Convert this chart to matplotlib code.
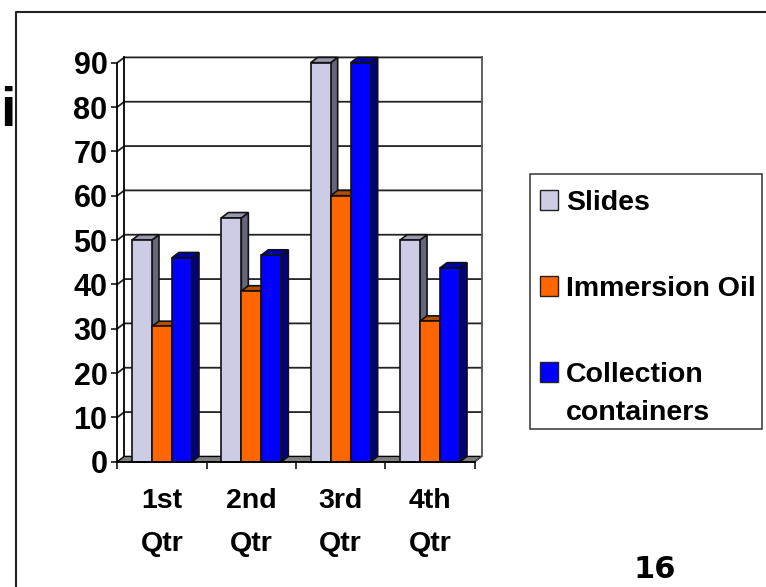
#Quarterly 3D-style column chart on a slide
import matplotlib
matplotlib.use('Agg')
import matplotlib.pyplot as plt
from matplotlib.patches import Polygon, Rectangle

plt.rcParams['font.family'] = ['Liberation Sans', 'DejaVu Sans']

quarters = ['1st\nQtr', '2nd\nQtr', '3rd\nQtr', '4th\nQtr']
series_names = ['Slides', 'Immersion Oil', 'Collection\ncontainers']
slides = [50, 55, 90, 50]
immersion_oil = [30.5, 38.5, 60, 31.7]
collection = [46, 46.6, 90, 43.7]
all_series = [slides, immersion_oil, collection]
y_ticks = [0, 10, 20, 30, 40, 50, 60, 70, 80, 90]

front_colors = ['#CCCCE6', '#FF6600', '#0000FF']
side_colors = ['#66667A', '#803300', '#000080']
top_colors = ['#9999AD', '#B34D00', '#0000B3']

W, H = 766, 587
fig = plt.figure(figsize=(W / 100, H / 100), dpi=100)

# axes box is the front edge of the chart, in pixels
left, right, top, bottom = 117.3, 474.7, 62.7, 461.7
ax = fig.add_axes([left / W, 1 - bottom / H, (right - left) / W, (bottom - top) / H])
ax.set_xlim(0, 4)
ax.set_ylim(0, 90)
ax.patch.set_visible(False)

# depth of the 3D effect, in data units
dx = 7 / ((right - left) / 4)
dy = 5.3 / ((bottom - top) / 90)

# walls, floor and gridlines
ax.add_patch(Polygon([(0, 0), (4, 0), (4 + dx, dy), (dx, dy)], fc='#808080', ec='black',
                     lw=1, clip_on=False, zorder=1))
for t in y_ticks[1:]:
    ax.plot([0, dx, 4 + dx], [t, t + dy, t + dy], color='#222222', lw=1.3, clip_on=False, zorder=1)
ax.plot([dx, dx], [dy, 90 + dy], color='black', lw=1.3, clip_on=False, zorder=1)
ax.plot([4 + dx, 4 + dx], [dy, 90 + dy], color='#555555', lw=1.3, clip_on=False, zorder=1)
ax.plot([4, 4 + dx], [0, dy], color='#555555', lw=1, clip_on=False, zorder=1)

# bars, drawn left to right so each front covers the previous side
bar_w = 20 / ((right - left) / 4)
z = 2
for i in range(len(quarters)):
    for j, vals in enumerate(all_series):
        x0 = i + 0.5 + (j - 1.5) * bar_w
        v = vals[i]
        ax.add_patch(Polygon([(x0 + bar_w, 0), (x0 + bar_w + dx, dy), (x0 + bar_w + dx, v + dy), (x0 + bar_w, v)],
                             fc=side_colors[j], ec='#111111', lw=1.2, clip_on=False, zorder=z))
        ax.add_patch(Polygon([(x0, v), (x0 + dx, v + dy), (x0 + bar_w + dx, v + dy), (x0 + bar_w, v)],
                             fc=top_colors[j], ec='#111111', lw=1.2, clip_on=False, zorder=z))
        ax.bar(x0, v, bar_w, align='edge', color=front_colors[j], edgecolor='#111111', lw=1.2,
               clip_on=False, zorder=z + 0.5)
        z += 1

for s in ['top', 'right']:
    ax.spines[s].set_visible(False)
for s in ['left', 'bottom']:
    ax.spines[s].set_linewidth(1.3)
    ax.spines[s].set_zorder(50)

ax.set_yticks(y_ticks)
ax.tick_params(axis='y', length=4, width=1.1, pad=3, labelsize=22)
for lab in ax.get_yticklabels():
    lab.set_fontweight('bold')
ax.set_xticks(range(5))
ax.set_xticklabels([])
ax.tick_params(axis='x', which='major', length=5, width=1.1)
ax.set_xticks([i + 0.5 for i in range(4)], minor=True)
ax.set_xticklabels(quarters, minor=True, fontsize=20.5, fontweight='bold', linespacing=1.85)
ax.tick_params(axis='x', which='minor', length=0, pad=19)

# overlay in pixel coordinates for the slide frame, legend and stray text
ov = fig.add_axes([0, 0, 1, 1])
ov.set_xlim(0, W)
ov.set_ylim(H, 0)
ov.axis('off')
ov.patch.set_visible(False)
ov.plot([15.5, 15.5, W], [H, 11.5, 11.5], color='#222222', lw=1.5)
ov.text(0.5, 112, 'i', fontsize=40, fontweight='bold', ha='left', va='center', color='black')
ov.text(655, 569, '16', fontsize=22, fontweight='bold', family=['DejaVu Sans'], ha='center', va='center')

ov.add_patch(Rectangle((530, 174), 232, 255, fc='white', ec='#333333', lw=1.1))
legend_y = [200, 286, 372]
for name, color, y in zip(series_names, front_colors, legend_y):
    ov.add_patch(Rectangle((539.5, y - 10), 18, 20, fc=color, ec='#222222', lw=1))
    ov.text(566, y - 10, name, fontsize=20.5, fontweight='bold', ha='left', va='top', linespacing=1.6)

fig.savefig('out.png', dpi=100)
